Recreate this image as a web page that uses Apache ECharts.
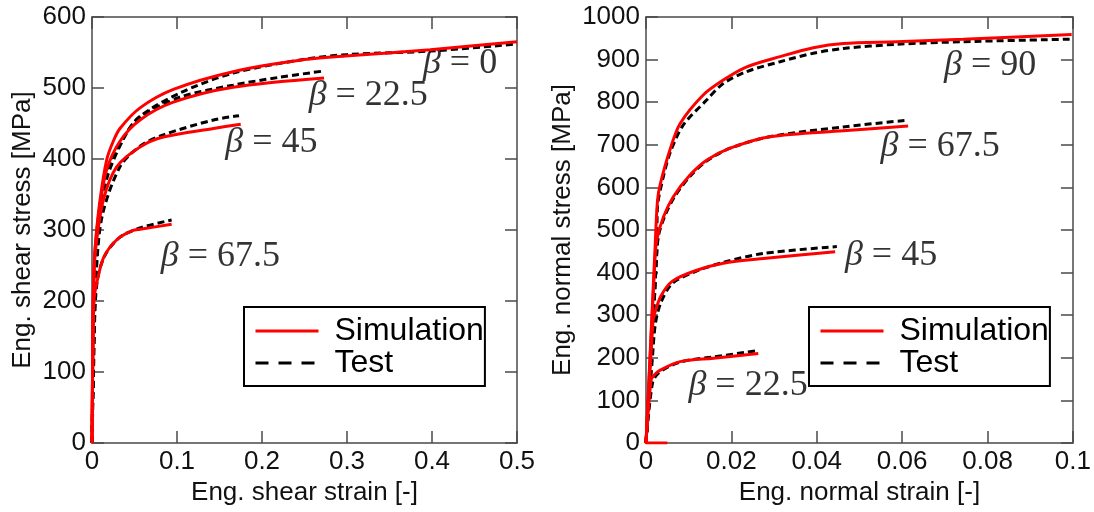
<!DOCTYPE html>
<html><head><meta charset="utf-8">
<script src="https://cdn.jsdelivr.net/npm/echarts@6/dist/echarts.min.js"></script>
<style>html,body{margin:0;padding:0;background:#fff}#c{width:1094px;height:512px}</style>
</head><body><div id="c"></div>
<script>
// ---------- Left panel: shear (strain [-], stress [MPa]) ----------
const shearSim0   = [[0,0],[0.001,150],[0.002,230],[0.004,280],[0.0094,342],[0.0173,399],[0.025,425],[0.0329,443],[0.0565,472],[0.0957,498],[0.166,523],[0.25,540],[0.298,545],[0.398,554],[0.5,565]];
const shearTest0  = [[0,0],[0.002,150],[0.005,260],[0.01,330],[0.018,385],[0.0369,430],[0.0565,460],[0.1035,493],[0.166,521],[0.253,541],[0.3,547],[0.398,552],[0.5,562]];
const shearSim22  = [[0,0],[0.001,150],[0.002,230],[0.004,278],[0.0094,335],[0.0173,385],[0.0329,425],[0.0565,455],[0.0957,480],[0.166,501],[0.273,514]];
const shearTest22 = [[0,0],[0.002,150],[0.005,255],[0.01,320],[0.018,375],[0.037,428],[0.0549,458],[0.1035,487],[0.166,504],[0.22,515],[0.273,524]];
const shearSim45  = [[0,0],[0.001,140],[0.002,220],[0.004,270],[0.0133,342],[0.029,389],[0.0565,417],[0.084,431],[0.143,443],[0.175,449]];
const shearTest45 = [[0,0],[0.002,140],[0.005,240],[0.012,320],[0.0329,389],[0.0565,418],[0.084,434],[0.143,455],[0.173,461]];
const shearSim67  = [[0,0],[0.001,120],[0.0024,201],[0.0055,225],[0.014,262],[0.0298,287],[0.0475,299],[0.0565,301],[0.0937,308]];
const shearTest67 = [[0,0],[0.002,110],[0.004,200],[0.008,240],[0.017,268],[0.033,290],[0.0565,303],[0.0937,314]];
const shearLabels = [['0',[0.433,535]],['22.5',[0.325,490]],['45',[0.211,423]],['67.5',[0.151,263]]];

// ---------- Right panel: normal ----------
const normSim90   = [[0.005,0],[0,0],[0.0021,453],[0.0027,570],[0.0034,610],[0.0056,688],[0.008,750],[0.0134,817],[0.0181,852],[0.0236,883],[0.0314,907],[0.0392,928],[0.0462,938],[0.0587,942],[0.0743,948],[0.0997,959]];
const normTest90  = [[0,0],[0.0015,250],[0.0025,450],[0.0027,555],[0.0037,610],[0.0056,680],[0.0087,746],[0.0142,805],[0.0181,844],[0.0236,872],[0.0314,895],[0.0392,915],[0.0462,926],[0.0587,936],[0.0743,942],[0.1,948]];
const normSim67   = [[0,0],[0.0021,430],[0.0025,476],[0.0041,531],[0.0064,578],[0.0103,629],[0.0142,664],[0.0197,692],[0.029,719],[0.0462,733],[0.0614,744]];
const normTest67  = [[0,0],[0.0015,250],[0.0025,440],[0.003,490],[0.0045,535],[0.0068,580],[0.0105,628],[0.0142,662],[0.0197,692],[0.029,719],[0.0462,742],[0.0614,758]];
const normSim45   = [[0,0],[0.0016,281],[0.0019,300],[0.0035,345],[0.0062,380],[0.0117,405],[0.0181,422],[0.0275,433],[0.0443,449]];
const normTest45  = [[0,0],[0.0015,200],[0.0022,280],[0.0035,330],[0.0062,375],[0.0117,403],[0.0181,424],[0.0275,445],[0.0447,461]];
const normSim22   = [[0,0],[0.0012,148],[0.002,160],[0.0033,171],[0.008,191],[0.0158,199],[0.0263,210]];
const normTest22  = [[0,0],[0.0015,140],[0.003,165],[0.008,190],[0.0158,202],[0.0263,217]];
const normLabels  = [['90',[0.0806,887]],['67.5',[0.0689,697]],['45',[0.0574,439]],['22.5',[0.0239,136]]];

const legendNames = ['Simulation','Test'];

// ---------- styles ----------
const SANS = 'Liberation Sans, Arial, sans-serif';
const SERIF = 'Liberation Serif, Times New Roman, serif';
const AX = '#4a4a4a';
const axLine = {show:true,onZero:false,lineStyle:{color:AX,width:1.5}};
const axTick = {show:true,inside:true,length:12,lineStyle:{color:AX,width:1.5}};
const lbl = (fmt)=>({fontFamily:SANS,fontSize:26,color:'#111',margin:6,formatter:fmt});
const nameStyle = {fontFamily:SANS,fontSize:26,color:'#111'};

function xMain(gi,max,interval,name,fmt){return {type:'value',gridIndex:gi,min:0,max,interval,name,nameLocation:'middle',nameGap:36,nameTextStyle:nameStyle,axisLine:axLine,axisTick:axTick,axisLabel:lbl(fmt),splitLine:{show:false}};}
function xTop(gi,max,interval){return {type:'value',gridIndex:gi,position:'top',min:0,max,interval,axisLine:axLine,axisTick:axTick,axisLabel:{show:false},splitLine:{show:false}};}
function yMain(gi,max,interval,name,gap){return {type:'value',gridIndex:gi,min:0,max,interval,name,nameLocation:'middle',nameGap:gap,nameTextStyle:nameStyle,axisLine:axLine,axisTick:axTick,axisLabel:lbl(v=>String(v)),splitLine:{show:false}};}
function yRight(gi,max,interval){return {type:'value',gridIndex:gi,position:'right',min:0,max,interval,axisLine:axLine,axisTick:axTick,axisLabel:{show:false},splitLine:{show:false}};}

function sim(data,xi,yi){return {type:'line',name:'Simulation',xAxisIndex:xi,yAxisIndex:yi,data,showSymbol:false,symbol:'none',smooth:0.3,z:4,lineStyle:{color:'#ff0000',width:3},itemStyle:{color:'#ff0000'}};}
function test(data,xi,yi){return {type:'line',name:'Test',xAxisIndex:xi,yAxisIndex:yi,data,showSymbol:false,symbol:'none',smooth:0.3,z:3,lineStyle:{color:'#000',width:3,type:[7,4]},itemStyle:{color:'#000'}};}
function labels(list,xi,yi){return {type:'scatter',xAxisIndex:xi,yAxisIndex:yi,symbolSize:1,silent:true,z:2,itemStyle:{color:'rgba(0,0,0,0)'},
  data:list.map(l=>({value:l[1],label:{formatter:'{b|β} = '+l[0]}})),
  label:{show:true,position:'inside',align:'center',verticalAlign:'middle',fontFamily:SERIF,fontSize:36,color:'#000',rich:{b:{fontFamily:SERIF,fontStyle:'italic',fontSize:36,color:'#000'}}}};}

function legend(left){return {data:[{name:'Simulation',lineStyle:{width:3}},{name:'Test',lineStyle:{width:3,type:[13,10]}}],orient:'vertical',left,top:307,padding:[8,1,7,10],itemGap:0,itemWidth:63,itemHeight:24,backgroundColor:'#fff',borderColor:'#000',borderWidth:2,borderRadius:0,selectedMode:false,z:10,
  itemStyle:{opacity:0,borderWidth:0},
  textStyle:{fontFamily:SANS,fontSize:32,lineHeight:30,color:'#000',padding:[0,0,0,11]}};}

const fmt2 = v=>String(+v.toFixed(2));
const fmt1 = v=>String(+v.toFixed(1));

const option = {
  animation:false,
  backgroundColor:'#fff',
  grid:[{left:92,right:577,top:17,bottom:69},{left:646,right:21,top:17,bottom:69}],
  xAxis:[xMain(0,0.5,0.1,'Eng. shear strain [-]',fmt1),xTop(0,0.5,0.1),xMain(1,0.1,0.02,'Eng. normal strain [-]',fmt2),xTop(1,0.1,0.02)],
  yAxis:[yMain(0,600,100,'Eng. shear stress [MPa]',56),yRight(0,600,100),yMain(1,1000,100,'Eng. normal stress [MPa]',70),yRight(1,1000,100)],
  legend:[legend(244),legend(809)],
  series:[
    test(shearTest0,0,0),test(shearTest22,0,0),test(shearTest45,0,0),test(shearTest67,0,0),
    sim(shearSim0,0,0),sim(shearSim22,0,0),sim(shearSim45,0,0),sim(shearSim67,0,0),
    test(normTest90,2,2),test(normTest67,2,2),test(normTest45,2,2),test(normTest22,2,2),
    sim(normSim90,2,2),sim(normSim67,2,2),sim(normSim45,2,2),sim(normSim22,2,2),
    labels(shearLabels,0,0),labels(normLabels,2,2)
  ]
};
const chart = echarts.init(document.getElementById('c'),null,{renderer:'canvas'});
chart.setOption(option);
</script></body></html>
